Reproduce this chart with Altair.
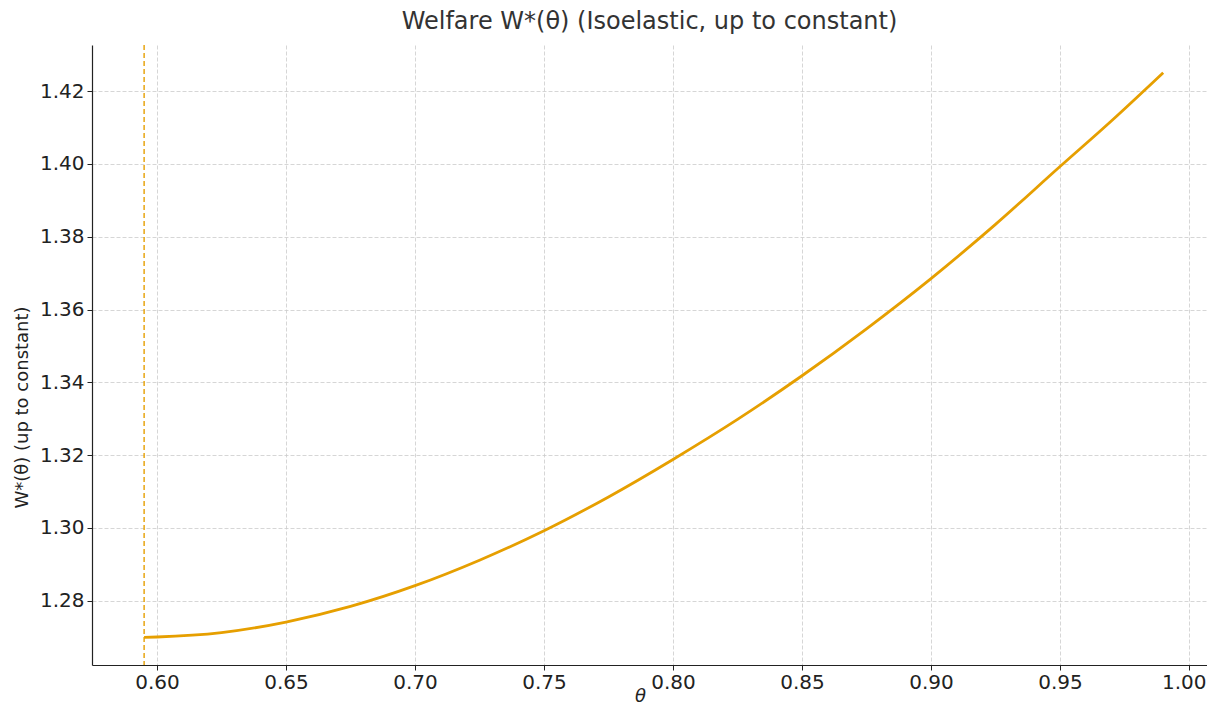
import altair as alt
import pandas as pd

theta = [0.595, 0.60, 0.625, 0.65, 0.675, 0.70, 0.725, 0.75, 0.775, 0.80,
         0.825, 0.85, 0.875, 0.90, 0.925, 0.95, 0.97, 0.99]
welfare = [1.2699, 1.2700, 1.2712, 1.2741, 1.2784, 1.2841, 1.2911, 1.2992, 1.3085, 1.3188,
           1.3298, 1.3418, 1.3547, 1.3685, 1.3834, 1.3993, 1.4119, 1.4251]
theta_min = [0.595]
x_ticks = [0.60, 0.65, 0.70, 0.75, 0.80, 0.85, 0.90, 0.95, 1.00]
y_ticks = [1.28, 1.30, 1.32, 1.34, 1.36, 1.38, 1.40, 1.42]

df = pd.DataFrame({"theta": theta, "W": welfare})
df_rule = pd.DataFrame({"theta": theta_min})

color = "#E69F00"
font = "DejaVu Sans"

xscale = alt.Scale(domain=[0.5748, 1.00698], nice=False, zero=False)
yscale = alt.Scale(domain=[1.2623, 1.4327], nice=False, zero=False)

axis_common = dict(
    grid=True, gridColor="#cccccc", gridDash=[4, 2], gridWidth=0.8,
    domainColor="#222222", domainWidth=1.2,
    tickColor="#222222", tickSize=5, tickWidth=1,
    labelFont=font, labelFontSize=20, labelColor="#222222",
    titleFont=font, titleFontSize=18, titleColor="#222222", titleFontWeight="normal",
)

line = alt.Chart(df).mark_line(color=color, strokeWidth=2.8, interpolate="monotone").encode(
    x=alt.X("theta:Q", scale=xscale,
            axis=alt.Axis(title="θ", values=x_ticks, format=".2f", labelPadding=2,
                          labelFlush=20, labelFlushOffset=17,
                          titleFontStyle="italic", titleBaseline="alphabetic",
                          titleAlign="center", titleX=548,
                          titleY=36, **axis_common)),
    y=alt.Y("W:Q", scale=yscale,
            axis=alt.Axis(title="W*(θ) (up to constant)", values=y_ticks, format=".2f",
                          labelPadding=3, titleBaseline="middle", titleX=-70, titleY=362,
                          **axis_common)),
)

rule = alt.Chart(df_rule).mark_rule(color=color, strokeWidth=1.4, strokeDash=[5, 3]).encode(
    x=alt.X("theta:Q", scale=xscale)
)

chart = alt.layer(rule, line).properties(
    width=1115,
    height=620,
    title=alt.TitleParams(
        text="Welfare W*(θ) (Isoelastic, up to constant)",
        font=font, fontSize=24, fontWeight="normal", color="#333333",
        anchor="middle", offset=10,
    ),
    autosize=alt.AutoSizeParams(type="none"),
    padding={"left": 84, "top": 37, "right": 0, "bottom": 40},
).configure_view(stroke=None)

chart.save("out.html", embed_options={"renderer": "svg", "actions": False})
